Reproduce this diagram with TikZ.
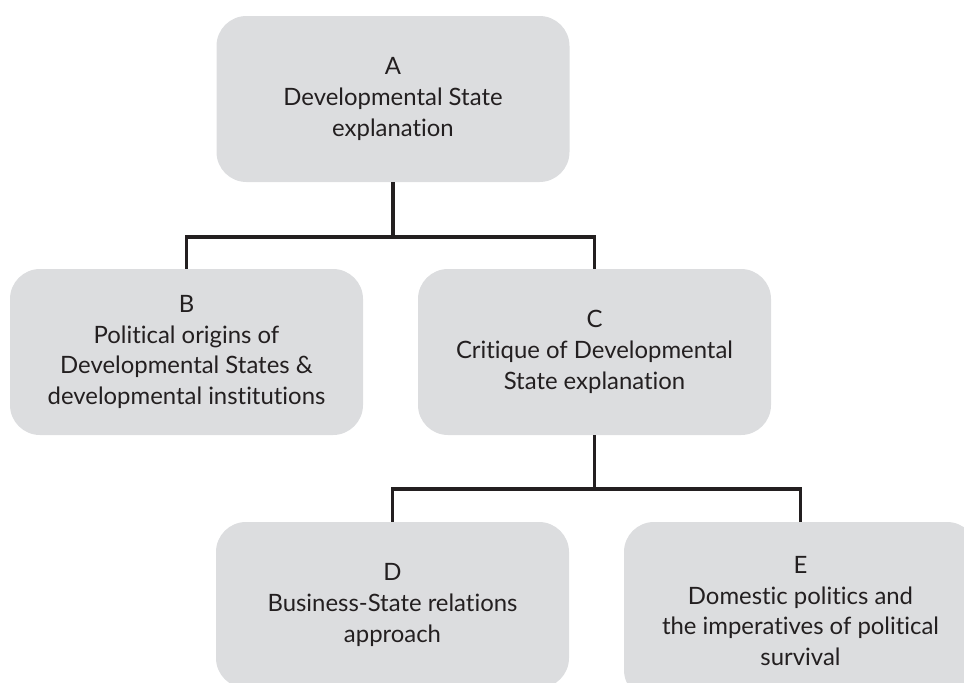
\documentclass[tikz,border=0pt]{standalone}
\usepackage{fontspec}
\setmainfont{Lato}[Ligatures=NoCommon]
\definecolor{boxgray}{HTML}{DCDDDF}
\definecolor{inkgray}{HTML}{231F20}
\begin{document}
\begin{tikzpicture}
    [
        topic/.style={rectangle, rounded corners=0.75cm, fill=boxgray, text=inkgray,
            minimum width=8.825cm, minimum height=4.15cm, align=center,
            font=\fontsize{17}{22}\selectfont, inner sep=0pt},
        link/.style={line width=2.6pt, draw=inkgray},
    ]

    \useasboundingbox (0,0) rectangle (24.1,-17.05);
    \clip (0,0) rectangle (24.1,-17.05);

    % boxes
    \node (A) at (9.825,-2.475)    [topic] {A\\Developmental State\\explanation};
    \node (B) at (4.6625,-8.8)     [topic] {B\\Political origins of\\Developmental States \&\\developmental institutions};
    \node (C) at (14.8625,-8.8)    [topic] {C\\Critique of Developmental\\State explanation};
    \node (D) at (9.8125,-15.125)  [topic] {D\\Business-State relations\\approach};
    \node (E) at (20.0125,-15.275) [topic, minimum height=4.45cm] {E\\Domestic politics and\\the imperatives of political\\survival};

    \draw [link] (A.south) -- ++(0,-1.375) -| (B.north);
    \draw [link] (A.south) -- ++(0,-1.375) -| (C.north);
    \draw [link] (C.south) -- ++(0,-1.35) -| (D.north);
    \draw [link] (C.south) -- ++(0,-1.35) -| (E.north);

\end{tikzpicture}
\end{document}
